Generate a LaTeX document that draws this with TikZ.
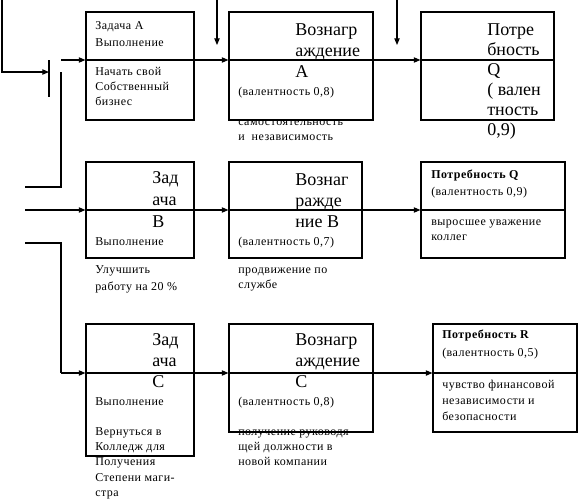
\documentclass[tikz,border=0pt]{standalone}
\usepackage{fontspec}
\setmainfont{Liberation Serif}
\newfontfamily\myserifls[LetterSpace=4]{Liberation Serif}
\usetikzlibrary{arrows.meta,fit}
\newcommand\mysmalltxt[1]{\myserifls\fontsize{9}{#1}\selectfont}
\newcommand\mybigtxt[1]{\fontsize{13.5}{#1}\selectfont}
\newcommand\mylines[1]{\begin{tabular}[t]{@{}l@{}}#1\end{tabular}}
\begin{document}
\begin{tikzpicture}[x=0.75pt,y=-0.75pt,
  box/.style={draw,line width=0.8pt,inner sep=0pt,rectangle},
  ln/.style={line width=0.8pt},
  arr/.style={line width=0.8pt,-{Triangle[length=5pt,width=4pt]}},
  sm/.style={font={\mysmalltxt{11.6pt}},anchor=base west,inner sep=0pt},
  bg/.style={font={\mybigtxt{15.75pt}},anchor=base west,inner sep=0pt}]
\useasboundingbox (0,0) rectangle (578,501);
% boxes
\node[box,fit={(86,12) (194,120)}] (A1) {};
\node[box,fit={(229,12) (373,120)}] (RA) {};
\node[box,fit={(421,12) (554,120)}] (Q1) {};
\node[box,fit={(86,162) (194,258)}] (B1) {};
\node[box,fit={(229,162) (362,258)}] (RB) {};
\node[box,fit={(421,162) (565,258)}] (Q2) {};
\node[box,fit={(86,324) (194,456)}] (C1) {};
\node[box,fit={(229,324) (373,432)}] (RC) {};
\node[box,fit={(433,324) (577,432)}] (R1) {};
% coordinates
\coordinate (r1) at (61,60);
\coordinate (r2) at (25,210);
\coordinate (r3) at (61,373);
\coordinate (tA) at (217,0);
\coordinate (tAe) at (217,45);
\coordinate (tB) at (397,0);
\coordinate (tBe) at (397,45);
\coordinate (L0) at (2,0);
\coordinate (L1) at (2,72);
\coordinate (bar1) at (49,60);
\coordinate (bar2) at (49,97);
\coordinate (v1) at (61,72);
\coordinate (v2) at (61,187);
\coordinate (v3) at (25,187);
\coordinate (w1) at (25,243);
\coordinate (w2) at (61,243);
% row 1
\draw[arr] (r1) -- (A1.west |- r1);
\draw[arr] (A1.west |- r1) -- (RA.west |- r1);
\draw[arr] (RA.west |- r1) -- (Q1.west |- r1);
\draw[ln] (Q1.west |- r1) -- (Q1.east |- r1);
\draw[arr] (tA) -- (tAe);
\draw[arr] (tB) -- (tBe);
\draw[arr] (L0) -- (L1) -- (L1 -| bar1);
\draw[ln] (bar1) -- (bar2);
\draw[ln] (v1) -- (v2) -- (v3);
% row 2
\draw[arr] (r2) -- (B1.west |- r2);
\draw[arr] (B1.west |- r2) -- (RB.west |- r2);
\draw[arr] (RB.west |- r2) -- (Q2.west |- r2);
\draw[ln] (Q2.west |- r2) -- (Q2.east |- r2);
% row 3
\draw[ln] (w1) -- (w2) -- (r3);
\draw[arr] (r3) -- (C1.west |- r3);
\draw[arr] (C1.west |- r3) -- (RC.west |- r3);
\draw[arr] (RC.west |- r3) -- (R1.west |- r3);
\draw[ln] (R1.west |- r3) -- (R1.east |- r3);
% texts row 1
\node[sm,font={\mysmalltxt{12.75pt}}] (ta1) at (95,29) {\mylines{Задача A\\Выполнение}};
\node[sm] (ta2) at (95,75) {\mylines{Начать свой\\Собственный\\бизнес}};
\node[bg] (tra1) at (295,35) {\mylines{Вознагр\\аждение\\A}};
\node[sm] (tra2) at (238,95) {(валентность 0,8)};
\node[sm] (tra3) at (238,125) {\mylines{самостоятельность\\и~~независимость}};
\node[bg,font={\mybigtxt{15pt}}] (tq1) at (487,35) {\mylines{Потре\\бность\\Q\\( вален\\тность\\0,9)}};
% texts row 2
\node[bg,font={\mybigtxt{16.5pt}}] (tb1) at (152,183) {\mylines{Зад\\ача\\B}};
\node[sm] (tb2) at (95,245) {Выполнение};
\node[sm,font={\mysmalltxt{12.75pt}}] (tb3) at (95,273) {\mylines{Улучшить\\работу на 20 \%}};
\node[bg] (trb1) at (295,185) {\mylines{Вознаг\\ражде\\ние B}};
\node[sm] (trb2) at (238,245) {(валентность 0,7)};
\node[sm] (trb3) at (238,273) {\mylines{продвижение по\\службе}};
\node[sm,font={\mysmalltxt{12.75pt}}] (tq2a) at (431,178) {\mylines{\textbf{Потребность Q}\\(валентность 0,9)}};
\node[sm] (tq2b) at (431,225) {\mylines{выросшее уважение\\коллег}};
% texts row 3
\node[bg] (tc1) at (152,345) {\mylines{Зад\\ача\\C}};
\node[sm] (tc2) at (95,405) {Выполнение};
\node[sm] (tc3) at (95,435) {\mylines{Вернуться в\\Колледж для\\Получения\\Степени маги-\\стра}};
\node[bg] (trc1) at (295,345) {\mylines{Вознагр\\аждение\\C}};
\node[sm] (trc2) at (238,405) {(валентность 0,8)};
\node[sm] (trc3) at (238,435) {\mylines{получение руководя-\\щей должности в\\новой компании}};
\node[sm,font={\mysmalltxt{13.5pt}}] (tr1) at (442,338) {\mylines{\textbf{Потребность R}\\(валентность 0,5)}};
\node[sm,font={\mysmalltxt{12pt}}] (tr2) at (442,388) {\mylines{чувство финансовой\\независимости и\\безопасности}};
\end{tikzpicture}
\end{document}
